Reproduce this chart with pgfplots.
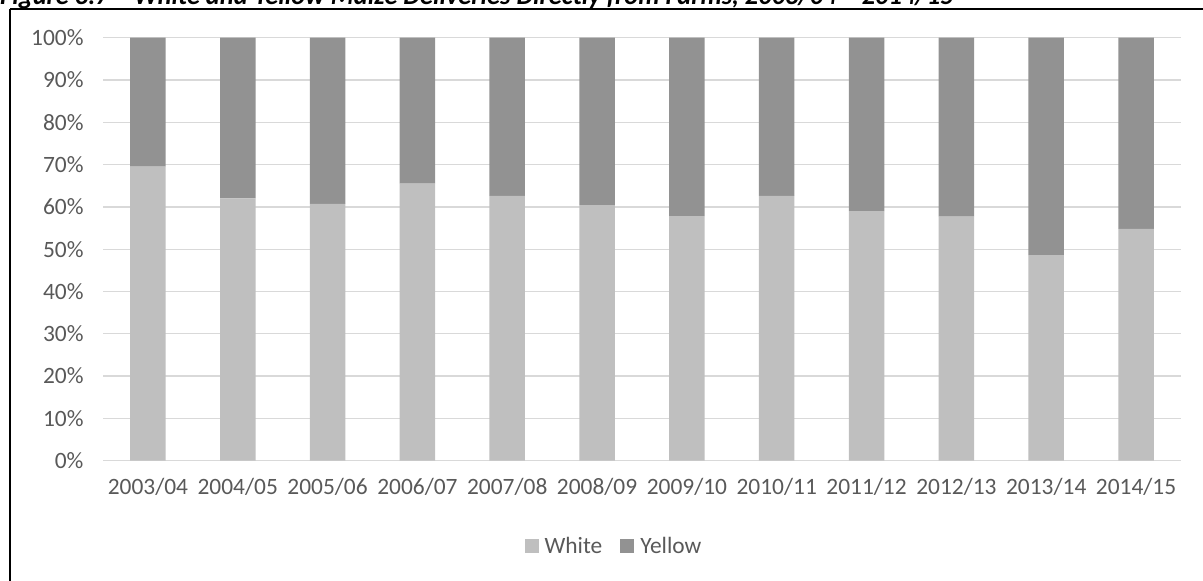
\documentclass[border=0pt]{standalone}
\usepackage{fontspec}
\setmainfont{Carlito}
\usepackage{pgfplots}
\pgfplotsset{compat=1.18}
\usepackage{pgfplotstable}

\definecolor{whitemaize}{RGB}{191,191,191}
\definecolor{yellowmaize}{RGB}{146,146,146}
\definecolor{gridgray}{RGB}{217,217,217}
\definecolor{labelgray}{RGB}{89,89,89}

% Share of maize deliveries (%) by season
\pgfplotstableread{
idx season  white  yellow
0   2003/04 69.5   30.5
1   2004/05 62.0   38.0
2   2005/06 60.7   39.3
3   2006/07 65.5   34.5
4   2007/08 62.6   37.4
5   2008/09 60.4   39.6
6   2009/10 57.8   42.2
7   2010/11 62.6   37.4
8   2011/12 59.0   41.0
9   2012/13 57.7   42.3
10  2013/14 48.6   51.4
11  2014/15 54.8   45.2
}\maizedata

\begin{document}
\begin{tikzpicture}
\path[use as bounding box] (0bp,0bp) rectangle (1203bp,581bp);
\begin{scope}
\clip (0bp,0bp) rectangle (1203bp,581bp);
% caption line, mostly above the frame
\node[anchor=base west, inner sep=0pt]
  at (0bp,576bp) {\fontsize{26.5}{30}\selectfont\bfseries\itshape Figure 3.7 – White and Yellow Maize Deliveries Directly from Farms, 2003/04 – 2014/15};
\end{scope}

% chart frame
\draw[black, line width=2bp] (10bp,572bp) -- (1210bp,572bp);
\draw[black, line width=1.7bp] (10bp,572bp) -- (10bp,-5bp);

\begin{axis}[
  at={(103bp,120.3bp)}, anchor=south west,
  scale only axis, width=1078bp, height=423bp,
  ybar stacked, bar width=35.5bp,
  xmin=-0.5, xmax=11.5, ymin=0, ymax=100,
  xtick=data,
  xticklabels={2003/04,2004/05,2005/06,2006/07,2007/08,2008/09,2009/10,2010/11,2011/12,2012/13,2013/14,2014/15},
  ytick={0,10,...,100},
  yticklabel={\pgfmathprintnumber{\tick}\%},
  /pgf/number format/assume math mode=true,
  tick style={draw=none},
  axis line style={draw=none},
  ymajorgrids, grid style={gridgray, line width=1.3bp},
  tick label style={font=\fontsize{23.5}{27}\selectfont, text=labelgray},
  xticklabel style={yshift=-14bp},
  yticklabel style={xshift=-16bp},
  legend style={at={(0.474,-0.2017)}, anchor=center, draw=none, fill=none,
    legend columns=2, font=\fontsize{23.5}{27}\selectfont, text=labelgray,
    /tikz/every odd column/.append style={column sep=4bp},
    /tikz/every even column/.append style={column sep=16bp}},
  legend cell align=left,
  legend image code/.code={\fill[#1] (0bp,-7bp) rectangle (14bp,7bp);},
]
\addplot[fill=whitemaize, draw=none] table[x=idx, y=white] {\maizedata};
\addplot[fill=yellowmaize, draw=none] table[x=idx, y=yellow] {\maizedata};
\legend{White, Yellow}
\end{axis}
\end{tikzpicture}
\end{document}
